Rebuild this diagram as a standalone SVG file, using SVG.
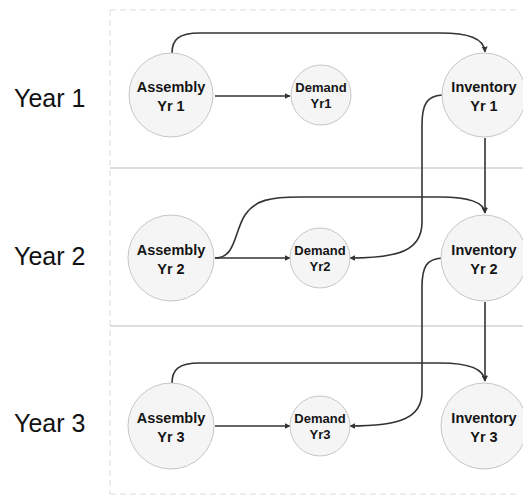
<svg xmlns="http://www.w3.org/2000/svg" width="523" height="497" viewBox="0 0 523 497">
  <style>
    .frame { fill: none; stroke: #dcdcdc; stroke-width: 1; stroke-dasharray: 6 4; }
    .sep { stroke: #bcbcbc; stroke-width: 1; }
    .node circle { fill: #f5f5f5; stroke: #c6c6c6; stroke-width: 1; }
    .big { font-family: "Liberation Sans", Arial, sans-serif; font-weight: bold; font-size: 14.5px; fill: #151515; text-anchor: middle; }
    .small { font-family: "Liberation Sans", Arial, sans-serif; font-weight: bold; font-size: 13px; fill: #151515; text-anchor: middle; }
    .year { font-family: "Liberation Sans", Arial, sans-serif; font-size: 25px; fill: #111; }
    .edge { fill: none; stroke: #333; stroke-width: 1.6; marker-end: url(#arrow); }
  </style>
  <defs>
    <marker id="arrow" viewBox="0 0 10 10" refX="9" refY="5" markerWidth="6" markerHeight="6" markerUnits="userSpaceOnUse" orient="auto">
      <path d="M0,0 L10,5 L0,10 Z" fill="#333"/>
    </marker>
  </defs>

  <rect width="523" height="497" fill="#ffffff"/>

  <!-- outer frame and row separators -->
  <path class="frame" d="M110,10 L520,10 M110,10 L110,494 M110,494 L520,494"/>
  <line class="sep" x1="110" y1="168" x2="523" y2="168"/>
  <line class="sep" x1="110" y1="326" x2="523" y2="326"/>

  <!-- row labels -->
  <text class="year" x="14" y="107">Year 1</text>
  <text class="year" x="14" y="265">Year 2</text>
  <text class="year" x="14" y="432">Year 3</text>

  <!-- connectors -->
  <g id="connectors">
    <path class="edge" d="M172,53 C172,40 178,33 200,33 L440,33 C468,33 484,38 485,52"/>
    <path class="edge" d="M215,96 L290,96"/>
    <path class="edge" d="M442,95 C427,96 422,104 422,125 L422,222 C422,250 400,258 350,258"/>
    <path class="edge" d="M485,138 L485,213"/>

    <path class="edge" d="M215,258 C236,258 234,232 245,215 C255,200 270,197 300,197 L440,197 C468,197 484,202 485,213"/>
    <path class="edge" d="M215,258 L290,258"/>
    <path class="edge" d="M442,258 C427,259 422,266 422,287 L422,392 C422,418 400,426 350,426"/>
    <path class="edge" d="M485,302 L485,381"/>

    <path class="edge" d="M172,383 C172,370 178,363 200,363 L440,363 C468,363 484,368 485,381"/>
    <path class="edge" d="M215,426 L290,426"/>
  </g>

  <!-- year 1 -->
  <g id="assembly-yr1" class="node">
    <circle cx="171" cy="95" r="42"/>
    <text class="big" x="171" y="92">Assembly</text>
    <text class="big" x="171" y="111">Yr 1</text>
  </g>
  <g id="demand-yr1" class="node">
    <circle cx="321" cy="95" r="30"/>
    <text class="small" x="321" y="92">Demand</text>
    <text class="small" x="321" y="108">Yr1</text>
  </g>
  <g id="inventory-yr1" class="node">
    <circle cx="484" cy="95" r="42"/>
    <text class="big" x="484" y="92">Inventory</text>
    <text class="big" x="484" y="111">Yr 1</text>
  </g>

  <!-- year 2 -->
  <g id="assembly-yr2" class="node">
    <circle cx="171" cy="258" r="43"/>
    <text class="big" x="171" y="255">Assembly</text>
    <text class="big" x="171" y="274">Yr 2</text>
  </g>
  <g id="demand-yr2" class="node">
    <circle cx="320" cy="258" r="30"/>
    <text class="small" x="320" y="255">Demand</text>
    <text class="small" x="320" y="271">Yr2</text>
  </g>
  <g id="inventory-yr2" class="node">
    <circle cx="484" cy="258" r="43"/>
    <text class="big" x="484" y="255">Inventory</text>
    <text class="big" x="484" y="274">Yr 2</text>
  </g>

  <!-- year 3 -->
  <g id="assembly-yr3" class="node">
    <circle cx="171" cy="426" r="43"/>
    <text class="big" x="171" y="423">Assembly</text>
    <text class="big" x="171" y="442">Yr 3</text>
  </g>
  <g id="demand-yr3" class="node">
    <circle cx="320" cy="426" r="30"/>
    <text class="small" x="320" y="423">Demand</text>
    <text class="small" x="320" y="439">Yr3</text>
  </g>
  <g id="inventory-yr3" class="node">
    <circle cx="484" cy="426" r="43"/>
    <text class="big" x="484" y="423">Inventory</text>
    <text class="big" x="484" y="442">Yr 3</text>
  </g>
</svg>
